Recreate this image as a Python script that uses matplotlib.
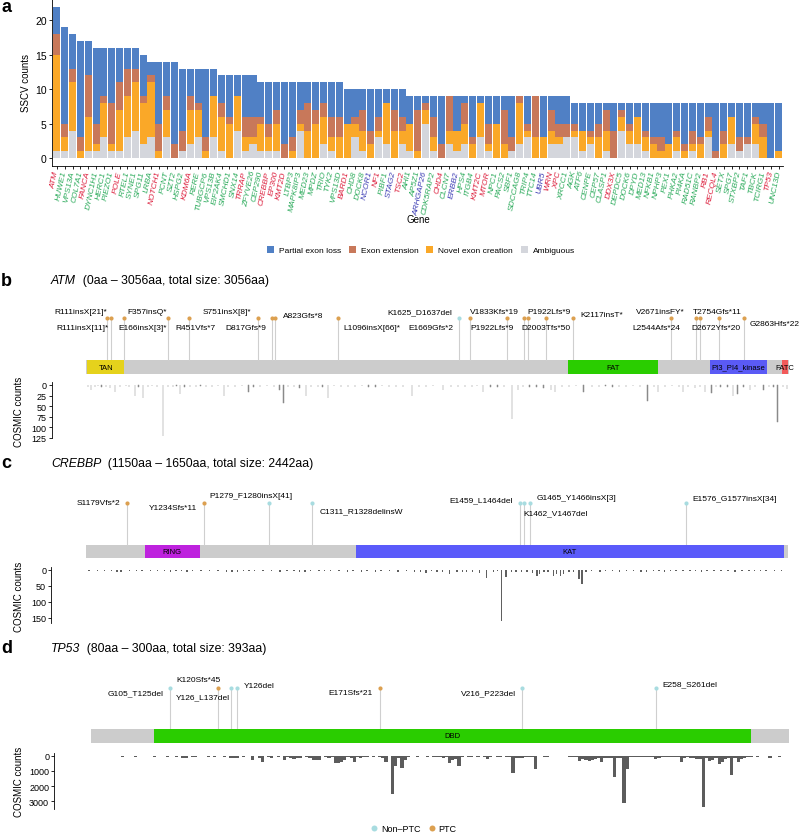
import matplotlib
matplotlib.use("Agg")
import matplotlib.pyplot as plt
from matplotlib.patches import Rectangle, Patch
from matplotlib.lines import Line2D

plt.rcParams["font.family"] = ["Liberation Sans", "DejaVu Sans"]

W, H = 800, 837

# =====================================================
# Data: panel a (SSCV counts per gene)
# =====================================================

GENES = [
    "ATM", "HUWE1", "VPS13A", "COL7A1", "FANCA", "DYNC1H1", "HERC1", "PIEZO1",
    "POLE", "RTEL1", "SYNE1", "SPG11", "LRBA", "NOTCH1", "PCNT", "SZT2", "HSPG2",
    "KDM6A", "RERE", "TUBGCP6", "VPS13B", "EIF2AK4", "SMCHD1", "SNX14", "TRRAP",
    "ZFYVE26", "CEP290", "CREBBP", "EP300", "KMT2D", "LTBP3", "MAPK8IP3", "MED23",
    "MPDZ", "TRIO", "TYK2", "VPS13D", "BARD1", "CHD8", "DOCK8", "NCOR1", "NF1",
    "PIBF1", "STAG2", "TSC2", "AHI1", "AP5Z1", "ARHGAP26", "CDK5RAP2", "CHD4",
    "CLCN7", "ERBB2", "HPS4", "ITGB4", "KMT2C", "MTOR", "NPC1", "PACS2", "SBF1",
    "SDCCAG8", "TRIP4", "TTC14", "UBR5", "WRN", "XPC", "XRCC1", "AGK", "ATF6",
    "CENPE", "CEP57", "CLASP1", "DDX3X", "DEPDC5", "DOCK6", "DPYD", "MED13",
    "NFKB1", "NPHP3", "PEX1", "PHKA2", "PI4KA", "RAD51C", "RANBP2", "RB1",
    "RECQL4", "SETX", "SPG7", "STXBP2", "TAF1", "TBCK", "TCIRG1", "TP53", "UNC13D",
]

AMBIGUOUS = [1, 1, 4, 0, 1, 1, 3, 1, 1, 3, 4, 2, 3, 0, 3, 0, 1, 2, 3, 0, 3, 1, 0, 4,
             1, 2, 1, 1, 1, 0, 0, 4, 0, 0, 2, 1, 0, 0, 3, 1, 0, 3, 2, 0, 2, 1, 0, 5,
             1, 0, 2, 1, 2, 0, 3, 1, 0, 0, 1, 2, 3, 0, 0, 2, 2, 3, 3, 1, 2, 0, 1, 0,
             4, 2, 2, 1, 0, 0, 0, 1, 0, 1, 0, 3, 0, 0, 2, 1, 2, 2, 0, 0, 0]
NOVEL = [14, 2, 7, 1, 5, 1, 5, 1, 6, 6, 7, 6, 8, 1, 4, 0, 0, 5, 4, 1, 6, 5, 5, 5,
         2, 1, 4, 2, 4, 0, 1, 1, 4, 5, 4, 2, 3, 5, 2, 3, 2, 1, 6, 4, 2, 4, 1, 2,
         2, 0, 2, 3, 3, 2, 5, 1, 5, 2, 0, 6, 1, 3, 3, 2, 1, 0, 1, 3, 1, 3, 3, 0,
         2, 2, 4, 2, 2, 1, 2, 2, 1, 1, 2, 1, 0, 2, 4, 0, 0, 3, 3, 0, 1]
EXTENSION = [3, 2, 2, 2, 6, 3, 1, 6, 4, 4, 2, 1, 1, 4, 2, 2, 3, 2, 1, 2, 0, 2, 1, 0,
             3, 3, 1, 2, 2, 2, 2, 2, 4, 2, 2, 3, 3, 0, 1, 3, 2, 2, 0, 3, 2, 0, 6, 1,
             3, 2, 5, 0, 3, 1, 0, 3, 0, 5, 2, 1, 1, 6, 0, 3, 2, 2, 1, 0, 1, 2, 3, 4,
             1, 1, 0, 1, 1, 2, 0, 1, 1, 2, 1, 2, 1, 2, 0, 2, 1, 1, 2, 0, 0]
PARTIAL = [4, 14, 5, 14, 5, 11, 7, 8, 5, 3, 3, 6, 2, 9, 5, 12, 9, 4, 5, 10, 4, 4, 6, 3,
           6, 6, 5, 6, 4, 9, 8, 4, 3, 4, 3, 5, 5, 5, 4, 3, 6, 4, 2, 3, 4, 4, 2, 1,
           3, 7, 0, 5, 1, 6, 1, 4, 4, 2, 6, 0, 4, 0, 6, 2, 4, 4, 3, 4, 4, 3, 1, 4,
           1, 3, 2, 4, 5, 5, 6, 4, 6, 4, 5, 2, 7, 4, 2, 5, 5, 2, 3, 8, 7]

# r = cancer gene (red), b = blue, g = green
GENE_GROUP = ["r", "g", "g", "g", "r", "g", "g", "g", "r", "g", "g", "g", "g", "r",
              "g", "g", "g", "r", "g", "g", "g", "g", "g", "g", "r", "g", "g", "r",
              "r", "r", "g", "g", "g", "g", "g", "g", "g", "r", "g", "g", "b", "r",
              "g", "b", "r", "g", "g", "b", "g", "r", "g", "b", "g", "g", "r", "r",
              "g", "g", "g", "g", "g", "g", "b", "r", "r", "g", "g", "g", "g", "g",
              "g", "r", "g", "g", "g", "g", "g", "g", "g", "g", "g", "g", "g", "r",
              "r", "g", "g", "g", "g", "g", "g", "r", "g"]

CATEGORIES = ["Partial exon loss", "Exon extension", "Novel exon creation", "Ambiguous"]

# =====================================================
# Data: panel b (ATM)
# =====================================================

ATM_REGION = (0, 3056)
ATM_DOMAINS = ["TAN", "FAT", "PI3_PI4_kinase", "FATC"]
ATM_DOM_START = [8, 2095, 2713, 3026]
ATM_DOM_END = [167, 2489, 2960, 3055]

ATM_MUT = ["R111insX[21]*", "R111insX[11]*", "E166insX[3]*", "F357insQ*", "R451Vfs*7",
           "S751insX[8]*", "D817Gfs*9", "A823Gfs*8", "L1096insX[66]*", "K1625_D1637del",
           "E1669Gfs*2", "V1833Kfs*19", "P1922Lfs*9", "P1922Lfs*9", "D2003Tfs*50",
           "K2117insT*", "L2544Afs*24", "V2671insFY*", "D2672Yfs*20", "T2754Gfs*11",
           "G2863Hfs*22"]
ATM_MUT_POS = [111, 95, 166, 357, 451, 751, 811, 823, 1096, 1625, 1669, 1833, 1906,
               1922, 2003, 2117, 2544, 2652, 2672, 2754, 2863]
ATM_MUT_TYPE = ["PTC"] * 9 + ["Non-PTC"] + ["PTC"] * 11

ATM_COSMIC_POS = [10, 23, 40, 55, 70, 90, 105, 128, 150, 175, 190, 215, 230, 251, 270,
                  290, 310, 337, 360, 380, 395, 412, 430, 455, 480, 500, 525, 550, 575,
                  603, 620, 650, 680, 708, 730, 760, 790, 820, 843, 860, 880, 905, 930,
                  958, 980, 1010, 1030, 1055, 1080, 1110, 1140, 1170, 1200, 1230, 1260,
                  1290, 1320, 1350, 1380, 1420, 1450, 1480, 1510, 1555, 1590, 1620, 1650,
                  1680, 1700, 1729, 1760, 1790, 1820, 1855, 1881, 1900, 1930, 1960, 1990,
                  2022, 2040, 2070, 2100, 2130, 2164, 2200, 2230, 2260, 2290, 2320, 2350,
                  2380, 2410, 2442, 2470, 2488, 2520, 2550, 2580, 2598, 2620, 2650, 2670,
                  2692, 2721, 2740, 2760, 2790, 2813, 2833, 2860, 2888, 2910, 2946, 2970,
                  2990, 3007, 3030, 3047]
ATM_COSMIC_N = [4, 13, 5, 3, 6, 4, 7, 16, 5, 3, 6, 25, 4, 31, 5,
                3, 6, 120, 4, 5, 3, 22, 5, 4, 6, 3, 4, 5, 3,
                25, 4, 5, 3, 17, 4, 6, 3, 5, 13, 42, 6, 4, 7,
                27, 5, 4, 6, 31, 3, 5, 4, 6, 3, 5, 4,
                3, 6, 4, 5, 25, 4, 6, 3, 13, 5, 4, 6,
                5, 3, 17, 4, 6, 5, 80, 13, 5, 6, 4, 7,
                13, 16, 4, 5, 3, 17, 4, 6, 3, 5, 4, 6,
                3, 5, 38, 4, 16, 5, 3, 6, 17, 4, 7, 5,
                17, 19, 6, 4, 5, 27, 21, 6, 13, 5, 11, 4,
                6, 88, 5, 9]

# =====================================================
# Data: panel c (CREBBP)
# =====================================================

CREBBP_REGION = (1150, 1650)
CREBBP_DOMAINS = ["RING", "KAT"]
CREBBP_DOM_START = [1192, 1342]
CREBBP_DOM_END = [1231, 1647]

CREBBP_MUT = ["S1179Vfs*2", "Y1234Sfs*11", "P1279_F1280insX[41]", "C1311_R1328delinsW",
              "E1459_L1464del", "K1462_V1467del", "G1465_Y1466insX[3]",
              "E1576_G1577insX[34]"]
CREBBP_MUT_POS = [1179, 1234, 1280, 1311, 1459, 1462, 1466, 1577]
CREBBP_MUT_TYPE = ["PTC", "PTC", "Non-PTC", "Non-PTC", "Non-PTC", "Non-PTC",
                   "Non-PTC", "Non-PTC"]

CREBBP_COSMIC_POS = [1152, 1158, 1163, 1168, 1172, 1175, 1181, 1186, 1190, 1196, 1201,
                     1206, 1210, 1214, 1218, 1222, 1226, 1232, 1238, 1244, 1250, 1254,
                     1258, 1262, 1266, 1270, 1276, 1282, 1288, 1293, 1298, 1302, 1306,
                     1310, 1316, 1320, 1324, 1330, 1336, 1340, 1346, 1350, 1356, 1360,
                     1366, 1372, 1378, 1384, 1388, 1392, 1396, 1400, 1404, 1409, 1414,
                     1418, 1421, 1425, 1430, 1435, 1440, 1443, 1446, 1449, 1453, 1456,
                     1460, 1464, 1468, 1471, 1473, 1476, 1479, 1483, 1485, 1488, 1490,
                     1494, 1497, 1501, 1503, 1506, 1510, 1516, 1520, 1525, 1530, 1535,
                     1540, 1545, 1549, 1554, 1558, 1562, 1566, 1570, 1575, 1580, 1584,
                     1588, 1592, 1597, 1602, 1607, 1612, 1617, 1622, 1626, 1630, 1634,
                     1640, 1645]
CREBBP_COSMIC_N = [3, 2, 4, 3, 8, 6, 3, 2, 4, 3, 2,
                   3, 5, 4, 3, 6, 4, 2, 3, 2, 5, 6,
                   7, 4, 3, 2, 3, 4, 5, 3, 4, 6, 5,
                   3, 2, 4, 3, 2, 6, 3, 5, 3, 7, 4,
                   3, 6, 4, 5, 8, 9, 4, 6, 5, 12, 7,
                   5, 7, 6, 9, 26, 5, 4, 160, 23, 6, 5,
                   8, 7, 9, 18, 12, 6, 5, 18, 12, 20, 12,
                   8, 6, 28, 44, 5, 4, 5, 4, 3, 5, 4,
                   3, 6, 7, 4, 3, 5, 3, 2, 4, 3, 2,
                   5, 3, 2, 4, 3, 5, 2, 3, 4, 2, 3,
                   2, 3]

# =====================================================
# Data: panel d (TP53)
# =====================================================

TP53_REGION = (80, 300)
TP53_DOMAINS = ["DBD"]
TP53_DOM_START = [100]
TP53_DOM_END = [288]

TP53_MUT = ["G105_T125del", "K120Sfs*45", "Y126_L137del", "Y126del", "E171Sfs*21",
            "V216_P223del", "E258_S261del"]
TP53_MUT_POS = [105, 120, 124, 126, 171, 216, 258]
TP53_MUT_TYPE = ["Non-PTC", "PTC", "Non-PTC", "Non-PTC", "PTC", "Non-PTC", "Non-PTC"]

TP53_COSMIC_POS = [80, 82, 84, 86, 88, 90, 92, 94, 96, 98, 100, 102, 104, 105, 107, 109,
                   110, 112, 113, 115, 117, 119, 120, 122, 124, 125, 126, 128, 130, 131,
                   133, 134, 136, 137, 139, 141, 142, 143, 144, 145, 146, 148, 149, 150,
                   151, 152, 154, 155, 156, 157, 158, 159, 160, 161, 162, 163, 164, 165,
                   166, 167, 169, 171, 172, 173, 175, 176, 177, 178, 179, 180, 181, 182,
                   183, 184, 185, 186, 187, 188, 189, 190, 191, 192, 193, 194, 195, 196,
                   197, 198, 199, 200, 201, 202, 203, 204, 205, 206, 207, 208, 209, 210,
                   211, 212, 213, 214, 215, 216, 217, 218, 219, 220, 221, 222, 223, 224,
                   225, 226, 227, 228, 229, 230, 231, 232, 233, 234, 235, 236, 237, 238,
                   239, 240, 241, 242, 243, 244, 245, 246, 247, 248, 249, 250, 251, 252,
                   253, 254, 255, 256, 257, 258, 259, 260, 261, 262, 263, 264, 265, 266,
                   267, 268, 269, 270, 271, 272, 273, 274, 275, 276, 277, 278, 279, 280,
                   281, 282, 283, 284, 285, 286, 287, 288, 289, 290, 291, 292, 293, 294,
                   295, 296, 297, 298, 299]
TP53_COSMIC_N = [20, 30, 25, 40, 30, 110, 35, 50, 40, 45, 70, 40, 50, 45, 60, 180,
                 150, 60, 90, 40, 50, 60, 45, 70, 180, 150, 180, 60, 45, 290,
                 120, 400, 80, 130, 90, 270, 100, 160, 200, 160, 180, 90, 120, 290,
                 300, 290, 100, 130, 80, 490, 500, 420, 270, 90, 150, 400, 110, 160,
                 70, 110, 60, 90, 120, 400, 2510, 670, 150, 785, 250, 70, 40, 45,
                 60, 40, 45, 50, 40, 60, 70, 110, 160, 100, 450, 270, 200, 670,
                 90, 45, 60, 70, 45, 67, 40, 100, 220, 60, 45, 70, 110, 40,
                 60, 80, 1120, 180, 180, 180, 70, 60, 90, 850, 45, 40, 70, 60,
                 40, 45, 35, 45, 40, 45, 60, 50, 70, 330, 200, 270, 360, 270,
                 220, 130, 400, 180, 120, 130, 1390, 120, 120, 3140, 850, 100, 80, 90,
                 60, 70, 110, 60, 80, 220, 160, 70, 67, 60, 50, 70, 100, 400,
                 120, 80, 180, 150, 220, 200, 3360, 150, 330, 250, 180, 560, 400, 220,
                 130, 1280, 150, 400, 220, 180, 90, 60, 45, 50, 40, 35, 40, 180,
                 40, 30, 110, 35, 30]

# =====================================================
# Styles and layout (pixels)
# =====================================================

SEG_COLORS = {"Partial exon loss": "#5080C5", "Exon extension": "#C8785A",
              "Novel exon creation": "#FAA828", "Ambiguous": "#D4D6DC"}
GROUP_COLORS = {"r": "#DC1E3C", "g": "#2AAA5A", "b": "#3C3CB4"}
DOMAIN_COLORS = {"TAN": "#E5D21C", "FAT": "#2ACD00", "PI3_PI4_kinase": "#5A5AF5",
                 "FATC": "#F25A5A", "RING": "#BE22DE", "KAT": "#5A5AFA", "DBD": "#2ACD00"}
PTC_COLOR = "#DCA050"
NONPTC_COLOR = "#A8DCE0"
BACKBONE = "#CCCCCC"
STEM = "#CFCFCF"

# label offsets from the dot: (dx px, dy px downward, ha)
ATM_LABEL_OFFSETS = [(-4, -7, "right"), (1, 9, "right"), (-5.4, 9, "left"),
                     (-0.3, -7, "right"), (-13.6, 9, "left"), (-6.6, -7, "right"),
                     (-5.4, 9, "right"), (7.8, -2.5, "left"), (5.6, 9, "left"),
                     (-6.7, -7, "right"), (-16.2, 9, "right"), (-37.3, -7, "left"),
                     (-54.1, 9, "left"), (0, -7, "left"), (-24.7, 9, "left"),
                     (7.5, -4, "left"), (-38.6, 9, "left"), (-60, -7, "left"),
                     (-9.3, 9, "left"), (-26, -7, "left"), (5.5, 5, "left")]
CREBBP_LABEL_OFFSETS = [(-6.7, -0.7, "right"), (-7.3, 5, "right"), (-59.4, -8, "left"),
                        (7.1, 7.7, "left"), (-6.8, -3.3, "right"), (-1.1, 10, "left"),
                        (6.7, -5.7, "left"), (6.7, -4.7, "left")]
TP53_LABEL_OFFSETS = [(-7, 4.3, "right"), (-41.9, -8.3, "left"), (-54.6, 8.3, "left"),
                      (6.9, -2.3, "left"), (-7, 4.3, "right"), (-6.8, 4.3, "right"),
                      (6.9, -4, "left")]

LAYOUT_B = dict(x0=85.5, x1=788.7, top=300, bottom=378, dot_y=319.3, bar_top=361,
                bar_bot=375, cosmic_top=383.4, spine_px=34, title_y=281)
LAYOUT_C = dict(x0=86, x1=788.3, top=485, bottom=562, dot_y=504, bar_top=545.7,
                bar_bot=559.3, cosmic_top=568.4, spine_px=35, title_y=463.5)
LAYOUT_D = dict(x0=91, x1=789, top=670, bottom=747, dot_y=689, bar_top=730,
                bar_bot=744, cosmic_top=754.2, spine_px=37, title_y=648.5)


def px_axes(fig, left, top, right, bottom):
    return fig.add_axes([left / W, 1 - bottom / H, (right - left) / W, (bottom - top) / H])


# =====================================================
# Panel a
# =====================================================

def stacked_bars(fig):

    ax = px_axes(fig, 52.3, 0, 783, 166.7)

    x = list(range(len(GENES)))
    bottom = [0] * len(GENES)
    for name, vals in [("Ambiguous", AMBIGUOUS), ("Novel exon creation", NOVEL),
                       ("Exon extension", EXTENSION), ("Partial exon loss", PARTIAL)]:
        ax.bar(x, vals, bottom=bottom, width=0.9, color=SEG_COLORS[name],
               linewidth=0)
        bottom = [b + v for b, v in zip(bottom, vals)]

    ax.set_xlim(-0.58, len(GENES) - 0.45)
    ax.set_ylim(-1.1, 23.1)
    ax.set_yticks([0, 5, 10, 15, 20])
    ax.set_xticks(x)
    ax.set_xticklabels(GENES, rotation=78, ha="right", va="center",
                       rotation_mode="anchor", fontstyle="italic", fontsize=6)
    for lab, grp in zip(ax.get_xticklabels(), GENE_GROUP):
        lab.set_color(GROUP_COLORS[grp])

    for side in ["top", "right"]:
        ax.spines[side].set_visible(False)
    for side in ["left", "bottom"]:
        ax.spines[side].set_linewidth(0.6)
    ax.tick_params(axis="both", length=2, width=0.6, pad=1.5)
    ax.tick_params(axis="y", labelsize=7.5, pad=2)
    ax.set_ylabel("SSCV counts", fontsize=7, labelpad=3)

    fig.text(418 / W, 1 - 220 / H, "Gene", fontsize=7, ha="center", va="center")
    fig.text(1 / W, 1 - 8 / H, "a", fontsize=13, fontweight="bold", va="center")

    handles = [Patch(facecolor=SEG_COLORS[c], edgecolor="none") for c in CATEGORIES]
    fig.legend(handles, CATEGORIES, loc="center", bbox_to_anchor=(421 / W, 1 - 251 / H),
               ncol=4, frameon=False, fontsize=6, handlelength=0.85, handleheight=0.85,
               handletextpad=0.6, columnspacing=0.9, borderaxespad=0, borderpad=0)


# =====================================================
# Panels b-d
# =====================================================

def panel_title(fig, y, letter, gene, rest):
    fig.text(1 / W, 1 - y / H, letter, fontsize=13, fontweight="bold", va="center")
    t = fig.text(51 / W, 1 - (y + 3.5) / H, gene, fontsize=8.8, style="italic",
                 va="baseline")
    bb = t.get_window_extent(renderer=fig.canvas.get_renderer())
    fig.text(bb.x1 / W, 1 - (y + 3.5) / H, rest, fontsize=8.8, va="baseline")


def lollipop_panel(fig, lay, region, dom_names, dom_start, dom_end,
                   mut_labels, mut_pos, mut_type, offsets,
                   cosmic_pos, cosmic_n, yticks, bar_color, bar_lw):

    ax = px_axes(fig, lay["x0"], lay["top"], lay["x1"], lay["bottom"])
    ax.set_xlim(region)
    ax.set_ylim(lay["bottom"], lay["top"])
    ax.axis("off")

    h = lay["bar_bot"] - lay["bar_top"]
    ax.add_patch(Rectangle((region[0], lay["bar_top"]), region[1] - region[0], h,
                           facecolor=BACKBONE, edgecolor="none", zorder=1))
    for name, s, e in zip(dom_names, dom_start, dom_end):
        ax.add_patch(Rectangle((s, lay["bar_top"]), e - s, h,
                               facecolor=DOMAIN_COLORS[name], edgecolor="none", zorder=2))
        ax.text((s + e) / 2, lay["bar_top"] + h / 2, name, fontsize=5.5,
                ha="center", va="center", zorder=3)

    for lab, p, t, (dx, dy, ha) in zip(mut_labels, mut_pos, mut_type, offsets):
        ax.plot([p, p], [lay["dot_y"], lay["bar_top"]], color=STEM, lw=0.8, zorder=1)
        ax.plot(p, lay["dot_y"], "o", ms=3, mew=0,
                color=PTC_COLOR if t == "PTC" else NONPTC_COLOR, zorder=4)
        ax.annotate(lab, (p, lay["dot_y"]), xytext=(dx * 0.72, -dy * 0.72),
                    textcoords="offset points", ha=ha, va="center", fontsize=6,
                    annotation_clip=False)

    # COSMIC counts, drawn downward
    top_n = max(cosmic_n)
    cx = px_axes(fig, lay["x0"], lay["cosmic_top"], lay["x1"], lay["cosmic_top"] + 56)
    cx.bar(cosmic_pos, cosmic_n, width=1, color=bar_color, edgecolor=bar_color,
           linewidth=bar_lw)
    cx.set_xlim(region)
    cx.set_ylim(1.05 * top_n, -0.05 * top_n)
    cx.set_yticks(yticks)
    cx.set_xticks([])
    for side in ["top", "right", "bottom"]:
        cx.spines[side].set_visible(False)
    cx.spines["left"].set_position(("outward", lay["spine_px"] * 0.72))
    cx.spines["left"].set_linewidth(0.6)
    cx.tick_params(axis="y", length=2, width=0.6, pad=1.5, labelsize=6.5)
    cx.patch.set_visible(False)
    fig.text(19 / W, 1 - (lay["cosmic_top"] + 28) / H, "COSMIC counts", fontsize=7,
             rotation=90, ha="center", va="center")


def bottom_legend(fig):
    handles = [Line2D([], [], marker="o", ls="none", ms=4.3, mew=0, color=NONPTC_COLOR),
               Line2D([], [], marker="o", ls="none", ms=4.3, mew=0, color=PTC_COLOR)]
    fig.legend(handles, ["Non\u2013PTC", "PTC"], loc="center",
               bbox_to_anchor=(414 / W, 1 - 830 / H), ncol=2, frameon=False,
               fontsize=6.5, handlelength=0.6, handletextpad=0.5, columnspacing=0.9,
               borderaxespad=0, borderpad=0)


def main():

    fig = plt.figure(figsize=(W / 100, H / 100), dpi=100)

    stacked_bars(fig)

    panel_title(fig, LAYOUT_B["title_y"], "b", "ATM",
                "  (0aa \u2013 3056aa, total size: 3056aa)")
    lollipop_panel(fig, LAYOUT_B, ATM_REGION, ATM_DOMAINS, ATM_DOM_START, ATM_DOM_END,
                   ATM_MUT, ATM_MUT_POS, ATM_MUT_TYPE, ATM_LABEL_OFFSETS,
                   ATM_COSMIC_POS, ATM_COSMIC_N, [0, 25, 50, 75, 100, 125],
                   "#8A8A8A", 0.35)

    panel_title(fig, LAYOUT_C["title_y"], "c", "CREBBP",
                "  (1150aa \u2013 1650aa, total size: 2442aa)")
    lollipop_panel(fig, LAYOUT_C, CREBBP_REGION, CREBBP_DOMAINS, CREBBP_DOM_START,
                   CREBBP_DOM_END, CREBBP_MUT, CREBBP_MUT_POS, CREBBP_MUT_TYPE,
                   CREBBP_LABEL_OFFSETS, CREBBP_COSMIC_POS, CREBBP_COSMIC_N,
                   [0, 50, 100, 150], "#606060", 0)

    panel_title(fig, LAYOUT_D["title_y"], "d", "TP53",
                "  (80aa \u2013 300aa, total size: 393aa)")
    lollipop_panel(fig, LAYOUT_D, TP53_REGION, TP53_DOMAINS, TP53_DOM_START,
                   TP53_DOM_END, TP53_MUT, TP53_MUT_POS, TP53_MUT_TYPE,
                   TP53_LABEL_OFFSETS, TP53_COSMIC_POS, TP53_COSMIC_N,
                   [0, 1000, 2000, 3000], "#5C5C5C", 0)

    bottom_legend(fig)

    fig.savefig("out.png", dpi=100)
    plt.close(fig)


if __name__ == "__main__":
    main()
